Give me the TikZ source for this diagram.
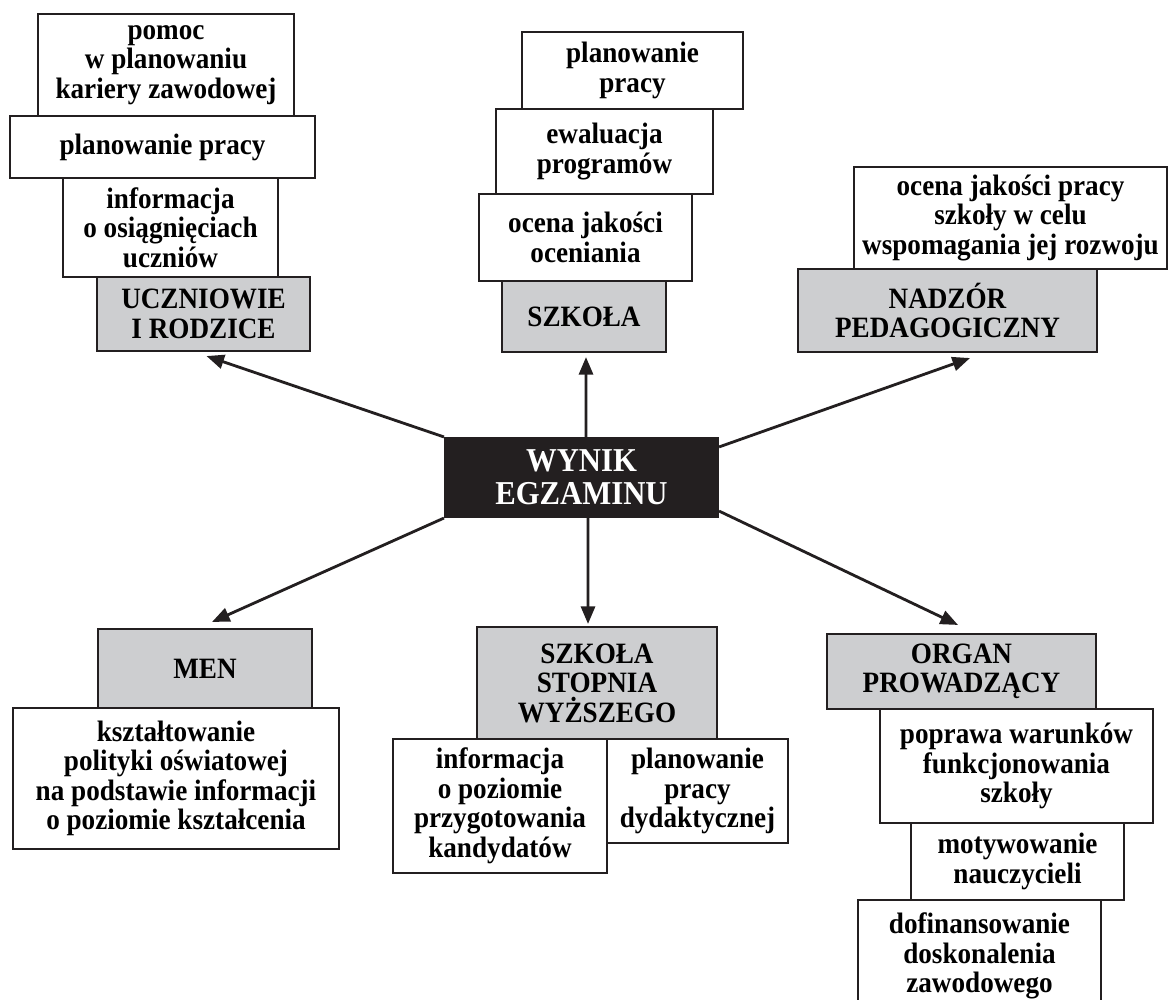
\documentclass[tikz,border=0pt]{standalone}
\usepackage{fontspec}
\setmainfont{Liberation Serif}[FakeStretch=0.92]
\usetikzlibrary{arrows.meta}
\definecolor{szary}{RGB}{205,206,208}
\definecolor{czarny}{RGB}{35,31,32}
\begin{document}
\begin{tikzpicture}[x=0.02cm,y=-0.02cm,
  szer/.style={minimum width=#1*0.02cm},
  wys/.style={minimum height=#1*0.02cm},
  pole/.style={draw=czarny, line width=1.2pt, fill=white, inner sep=0pt, align=center,
    font=\fontsize{16.8}{16.8}\selectfont\bfseries},
  tytul/.style={pole, fill=szary},
  srodek/.style={pole, fill=czarny, text=white, font=\fontsize{19}{19}\selectfont\bfseries},
  strz/.style={-{Triangle[length=10pt,width=8pt]}, line width=1.6pt, draw=czarny}]
\useasboundingbox (0,0) rectangle (1169,1000);
% uczniowie i rodzice
\node[pole, szer=256, wys=102] (pomoc) at (166,65) {pomoc\\w planowaniu\\kariery zawodowej};
\node[pole, szer=305, wys=62] (planU) at (162.5,147) {planowanie pracy};
\node[pole, szer=215, wys=99] (infoU) at (170.5,227.5) {informacja\\o osiągnięciach\\uczniów};
\node[tytul, szer=213, wys=74] (uczn) at (203.5,314) {UCZNIOWIE\\I RODZICE};
% szkola
\node[pole, szer=221, wys=77] (planS) at (632.5,70.5) {planowanie\\pracy};
\node[pole, szer=217, wys=85] (ewal) at (604.5,151.5) {ewaluacja\\programów};
\node[pole, szer=213, wys=87] (ocenaS) at (585.5,237.5) {ocena jakości\\oceniania};
\node[tytul, szer=164, wys=71] (szkola) at (584,316.5) {SZKOŁA};
% nadzor pedagogiczny
\node[pole, szer=313, wys=102] (ocenaN) at (1010.5,218) {ocena jakości pracy\\szkoły w celu\\wspomagania jej rozwoju};
\node[tytul, szer=299, wys=83] (nadzor) at (947.5,310.5) {NADZÓR\\PEDAGOGICZNY};
% wynik egzaminu
\node[srodek, szer=273, wys=79] (wynik) at (581.5,477.5) {WYNIK\\EGZAMINU};
% MEN
\node[tytul, szer=214, wys=79] (men) at (205,668.5) {MEN};
\node[pole, szer=326, wys=141] (ksztal) at (176,778.5) {kształtowanie\\polityki oświatowej\\na podstawie informacji\\o poziomie kształcenia};
% szkola stopnia wyzszego
\node[tytul, szer=240, wys=112] (stopnia) at (597,683) {SZKOŁA\\STOPNIA\\WYŻSZEGO};
\node[pole, szer=214, wys=134] (infoW) at (500,806) {informacja\\o poziomie\\przygotowania\\kandydatów};
\node[pole, szer=181, wys=104] (planW) at (697.5,791) {planowanie\\pracy\\dydaktycznej};
% organ prowadzacy
\node[tytul, szer=269, wys=75] (organ) at (961.5,671.5) {ORGAN\\PROWADZĄCY};
\node[pole, szer=273, wys=114] (popr) at (1016.5,766) {poprawa warunków\\funkcjonowania\\szkoły};
\node[pole, szer=213, wys=77] (motyw) at (1017.5,861.5) {motywowanie\\nauczycieli};
\node[pole, szer=243, wys=112] (dofin) at (979.5,956) {dofinansowanie\\doskonalenia\\zawodowego};
% strzalki
\draw[strz] (wynik.north west) -- ([shift={(3,4)}]uczn.south);
\draw[strz] ([shift={(4.5,0)}]wynik.north) -- ([shift={(2,4)}]szkola.south);
\draw[strz] ([shift={(0,10)}]wynik.north east) -- ([shift={(22.5,5)}]nadzor.south);
\draw[strz] (wynik.south west) -- ([shift={(7,-6)}]men.north);
\draw[strz] ([shift={(6.5,0)}]wynik.south) -- ([shift={(-9,-2)}]stopnia.north);
\draw[strz] ([shift={(0,-7)}]wynik.south east) -- ([shift={(-3.5,-8)}]organ.north);
\end{tikzpicture}
\end{document}
